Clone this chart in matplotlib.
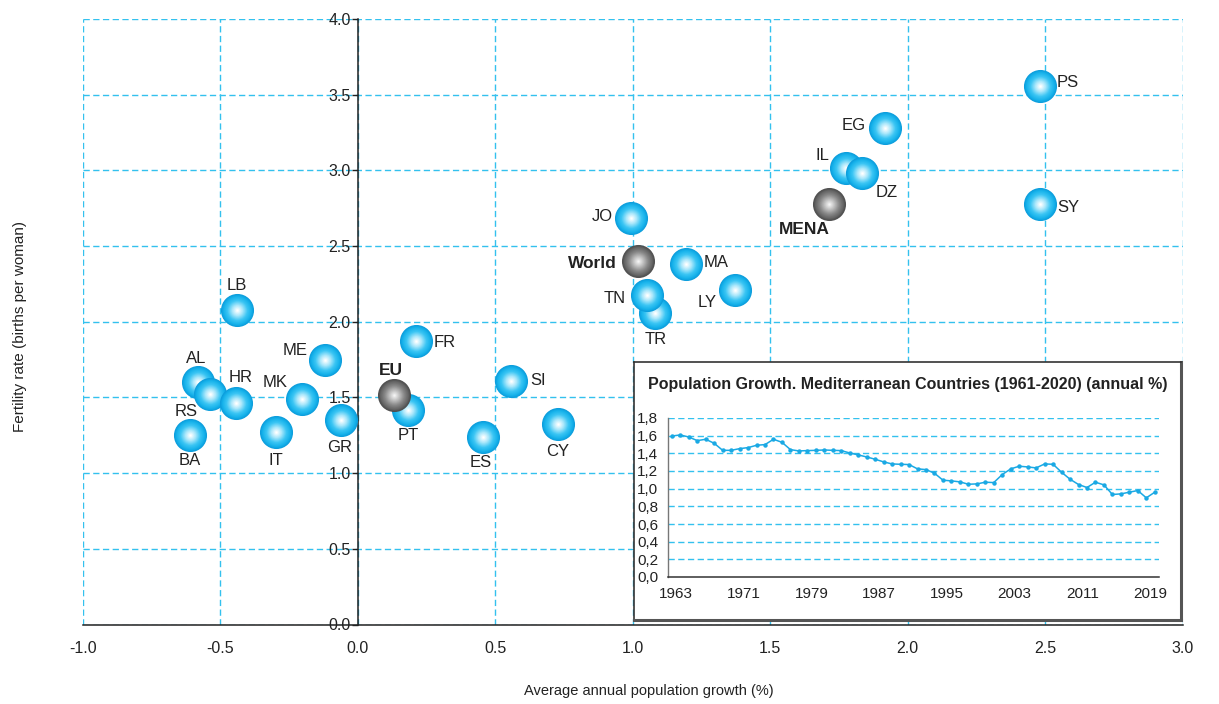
import numpy as np
import matplotlib
matplotlib.use("Agg")
import matplotlib.pyplot as plt
import matplotlib.transforms as mtransforms
from matplotlib.colors import to_rgb

plt.rcParams['font.family'] = ['Liberation Sans', 'DejaVu Sans']

# --- data: countries (drawing order matters for overlaps) ---
codes = ['PS', 'EG', 'IL', 'DZ', 'SY', 'JO', 'MA', 'LY', 'TR', 'TN',
         'LB', 'FR', 'ME', 'AL', 'RS', 'HR', 'MK', 'BA', 'IT', 'GR',
         'PT', 'SI', 'ES', 'CY']
growth = [2.48, 1.916, 1.775, 1.835, 2.48, 0.995, 1.194, 1.372, 1.080, 1.051,
          -0.440, 0.211, -0.117, -0.579, -0.535, -0.441, -0.201, -0.611, -0.295, -0.059,
          0.185, 0.556, 0.457, 0.727]
fertility = [3.56, 3.283, 3.018, 2.985, 2.776, 2.688, 2.381, 2.208, 2.058, 2.174,
             2.075, 1.870, 1.745, 1.601, 1.520, 1.463, 1.487, 1.249, 1.269, 1.348,
             1.414, 1.606, 1.236, 1.322]

agg_names = ['World', 'MENA', 'EU']
agg_growth = [1.019, 1.713, 0.132]
agg_fertility = [2.399, 2.776, 1.518]

# inset: population growth, Mediterranean countries (annual %)
years = list(range(1963, 2021))
pop_growth = [1.596, 1.608, 1.585, 1.544, 1.559, 1.514, 1.434, 1.434, 1.453, 1.465,
              1.491, 1.499, 1.559, 1.525, 1.442, 1.427, 1.431, 1.434, 1.438, 1.434,
              1.431, 1.404, 1.382, 1.359, 1.333, 1.303, 1.280, 1.276, 1.273, 1.224,
              1.216, 1.175, 1.096, 1.088, 1.077, 1.050, 1.054, 1.073, 1.069, 1.160,
              1.224, 1.254, 1.246, 1.235, 1.280, 1.276, 1.186, 1.107, 1.047, 1.013,
              1.073, 1.043, 0.934, 0.941, 0.960, 0.979, 0.896, 0.960]
inset_ticks = [1963, 1971, 1979, 1987, 1995, 2003, 2011, 2019]

# label offsets in pixels (dx, dy up) from the ball centre
label_off = {
    'PS': (28, 3), 'EG': (-31, 2), 'IL': (-23, 12), 'DZ': (24, -20),
    'SY': (29, -3), 'JO': (-29, 1), 'MA': (30, 2), 'LY': (-28, -12),
    'TN': (-32, -3), 'TR': (1, -27), 'LB': (0, 25), 'FR': (29, -1),
    'ME': (-30, 10), 'AL': (-2, 24), 'RS': (-24, -17), 'HR': (4, 26),
    'MK': (-27, 17), 'BA': (0, -25), 'IT': (-1, -28), 'GR': (-2, -27),
    'PT': (0, -25), 'SI': (28, 1), 'ES': (-3, -25), 'CY': (0, -27),
    'World': (-45, -2), 'MENA': (-24, -25), 'EU': (-3, 24),
}

GRID = '#33c1ee'
BLUE_STOPS = ['#0c9ddc', '#16b2eb', '#3cc6f4', '#a8e7fb', '#ffffff']
GRAY_STOPS = ['#4a4a4a', '#656565', '#878787', '#bdbdbd', '#f4f4f4']
STOP_POS = [1.0, 0.86, 0.62, 0.34, 0.05]
BALL_D = 23.8  # points


def shade(stops, f):
    rgb = np.array([to_rgb(c) for c in stops])
    xp = STOP_POS[::-1]
    return tuple(np.interp(f, xp, rgb[::-1, k]) for k in range(3))


def draw_ball(ax, x, y, stops, z, alpha=1.0):
    for f in np.linspace(1.0, 0.05, 24):
        ax.scatter([x], [y], s=(BALL_D * f) ** 2, color=shade(stops, f),
                   linewidths=0, zorder=z, alpha=alpha, clip_on=False)
        z += 0.001
    return z


fig = plt.figure(figsize=(12.19, 7.04), dpi=100)
W, H = 1219, 704

ax = fig.add_axes([82.6 / W, 1 - 624.5 / H, 1100 / W, 605.5 / H])
ax.set_xlim(-1, 3)
ax.set_ylim(0, 4)
for s in ['top', 'right']:
    ax.spines[s].set_visible(False)
ax.spines['left'].set_position(('data', 0))
for s in ['left', 'bottom']:
    ax.spines[s].set_color('#222222')
    ax.spines[s].set_linewidth(1.1)
    ax.spines[s].set_zorder(3)

xt = np.arange(-1, 3.01, 0.5)
yt = np.arange(0, 4.01, 0.5)
ax.set_xticks(xt)
ax.set_xticklabels([f'{v:.1f}' for v in xt])
ax.set_yticks(yt)
ax.set_yticklabels([f'{v:.1f}' for v in yt])
ax.tick_params(axis='x', length=0, pad=12, labelsize=11.5, labelcolor='#222222')
ax.tick_params(axis='y', length=4, width=1, pad=1, labelsize=11.5,
               labelcolor='#222222', color='#222222')
ax.grid(True, color=GRID, lw=1, linestyle=(0, (4.5, 2.5)), zorder=0)
ax.set_axisbelow(True)

z = 5
for c, gx, fy in zip(codes, growth, fertility):
    z = draw_ball(ax, gx, fy, BLUE_STOPS, z)
for c, gx, fy in zip(agg_names, agg_growth, agg_fertility):
    z = draw_ball(ax, gx, fy, GRAY_STOPS, z, alpha=0.95)

for c, gx, fy in zip(codes + agg_names, growth + agg_growth, fertility + agg_fertility):
    dx, dy = label_off[c]
    bold = c in agg_names
    ax.annotate(c, (gx, fy), xytext=(dx * 0.72, dy * 0.72), textcoords='offset points',
                ha='center', va='center', fontsize=12.5 if bold else 12,
                fontweight='bold' if bold else 'normal', color='#222222', zorder=50)

fig.text(20.5 / W, 1 - 326 / H, 'Fertility rate (births per woman)', rotation=90,
         ha='center', va='center', fontsize=11, color='#222222')
fig.text(649 / W, 1 - 691 / H, 'Average annual population growth (%)',
         ha='center', va='center', fontsize=10.5, color='#222222')

# --- inset box ---
frame = fig.add_axes([634 / W, 1 - 620 / H, 547 / W, 258 / H], zorder=10)
frame.set_xticks([])
frame.set_yticks([])
frame.set_facecolor('white')
for s in frame.spines.values():
    s.set_color('#333333')
    s.set_linewidth(1.2)
frame.spines['right'].set_linewidth(2.2)
frame.spines['bottom'].set_linewidth(2.2)
frame.spines['right'].set_color('#555555')
frame.spines['bottom'].set_color('#555555')

fig.text(648 / W, 1 - 385 / H,
         'Population Growth. Mediterranean Countries (1961-2020) (annual %)',
         ha='left', va='center', fontsize=11.5, fontweight='bold', color='#222222',
         zorder=20)

ins = fig.add_axes([668 / W, 1 - 577 / H, 491 / W, 159 / H], zorder=11)
ins.set_facecolor('none')
ins.set_xlim(1962.55, 2020.5)
ins.set_ylim(0, 1.8)
for s in ['top', 'right']:
    ins.spines[s].set_visible(False)
ins.spines['left'].set_color('#777777')
ins.spines['bottom'].set_color('#333333')
ins.spines['left'].set_linewidth(1.0)
ins.spines['bottom'].set_linewidth(1.1)
iyt = np.arange(0, 1.81, 0.2)
ins.set_yticks(iyt)
ins.set_yticklabels([f'{v:.1f}'.replace('.', ',') for v in iyt])
ins.set_xticks(inset_ticks)
ins.tick_params(axis='both', length=0, labelsize=11, labelcolor='#222222')
ins.tick_params(axis='y', pad=7)
ins.tick_params(axis='x', pad=7)
shift = mtransforms.ScaledTranslation(4 / 100, 0, fig.dpi_scale_trans)
for lab in ins.get_xticklabels():
    lab.set_transform(lab.get_transform() + shift)
for v in iyt[1:]:
    ins.axhline(v, color=GRID, lw=1, linestyle=(0, (4.5, 2.5)), zorder=1)
ins.plot(years, pop_growth, color='#1aa9e4', lw=1.1, marker='o', ms=3.2,
         markeredgewidth=0, zorder=3)

fig.savefig('out.png', dpi=100)
